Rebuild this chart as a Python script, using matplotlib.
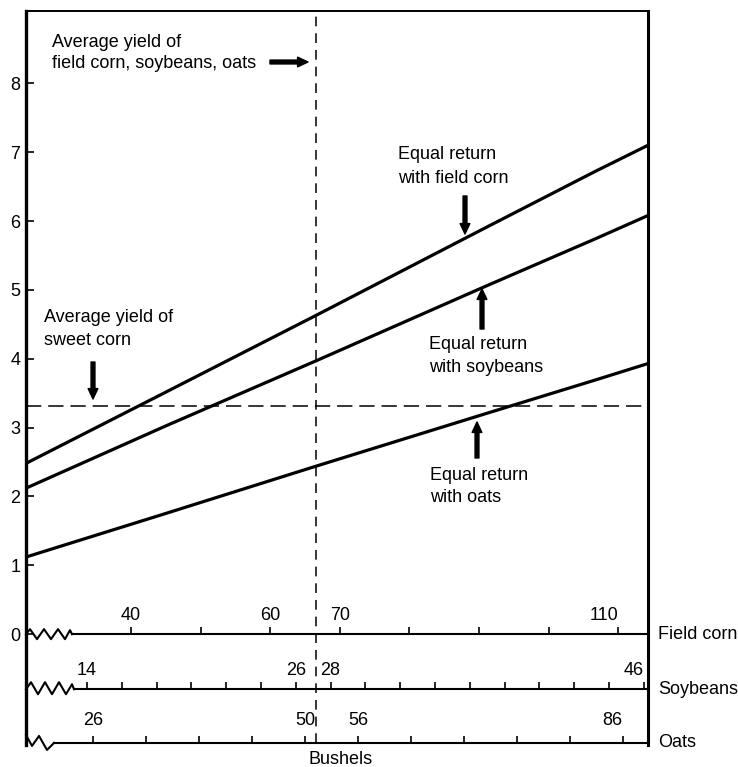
import matplotlib
matplotlib.use("Agg")
import matplotlib.pyplot as plt
from matplotlib.transforms import Affine2D, ScaledTranslation
from matplotlib.ticker import FixedLocator, FixedFormatter

plt.rcParams['font.family'] = ['Liberation Sans', 'DejaVu Sans']
plt.rcParams['font.size'] = 13
plt.rcParams['lines.scale_dashes'] = False

# ---------------- data ----------------
# x positions on the field-corn bushel scale where the curves were read
x_corn = [24.9, 44.9, 66.6, 90.9, 106.7, 114.3]
# tons of sweet corn needed for equal return
y_field_corn = [2.48, 3.51, 4.63, 5.90, 6.72, 7.10]
y_soybeans = [2.12, 3.02, 3.97, 5.05, 5.74, 6.08]
y_oats = [1.12, 1.75, 2.44, 3.20, 3.69, 3.93]

sweet_corn_avg = 3.32      # average yield of sweet corn
avg_corn_bu = 66.6         # average yield of field corn (soybeans 27, oats 51)

y_ticks = [0, 1, 2, 3, 4, 5, 6, 7, 8]

corn_ticks = [40, 50, 60, 70, 80, 90, 100, 110]
corn_labeled = [40, 60, 70, 110]
soy_ticks = [14, 16, 18, 20, 22, 24, 26, 28, 30, 32, 34, 36, 38, 40, 42, 44, 46]
soy_labeled = [14, 26, 28, 46]
oats_ticks = [26, 32, 38, 44, 50, 56, 62, 68, 74, 80, 86]
oats_labeled = [26, 50, 56, 86]

scale_names = ["Field corn", "Soybeans", "Oats"]

# bushel values at the left / right frame edges of each scale
corn_range = (24.9, 114.3)
soy_range = (10.5, 46.24)
oats_range = (18.4, 88.85)
# where each scale line starts after its break symbol
corn_start = 31.5
soy_start = 13.25
oats_start = 21.6

# ---------------- figure ----------------
W, H = 738, 767
fig = plt.figure(figsize=(W / 100, H / 100), dpi=100)
ax = fig.add_axes([26 / W, (H - 745) / H, 622 / W, 734 / H])
ax.set_xlim(*corn_range)
ax.set_ylim(-1.61, 9.05)
ax.patch.set_visible(False)

ax.spines['bottom'].set_visible(False)
ax.spines['left'].set_linewidth(2.4)
ax.spines['right'].set_linewidth(2.2)
ax.spines['top'].set_linewidth(1.4)
ax.set_xticks([])
ax.set_yticks(y_ticks)
ax.tick_params(axis='y', direction='in', length=6, width=1.2, pad=4,
               labelsize=13)

for yv in (y_field_corn, y_soybeans, y_oats):
    ax.plot(x_corn, yv, color='black', lw=2.3, solid_capstyle='butt')

ax.axhline(sweet_corn_avg, color='black', lw=1.1, ls=(0, (11, 5)))
ax.vlines(avg_corn_bu, -1.58, 9.05, color='black', lw=1.1,
          linestyles=[(0, (7, 5))])

# ---------------- bushel scales ----------------
scales = [
    (0.0, corn_range, corn_ticks, corn_labeled, corn_start, 7.3,
     [(0, 0), (4, 5), (11, -5), (18, 5), (25, -5), (32, 5), (39, -5), (44, 4), (46, 0)]),
    (-0.80, soy_range, soy_ticks, soy_labeled, soy_start, 7.3,
     [(0, 0), (5, 7), (12, -5), (19, 7), (26, -5), (33, 7), (40, -5), (46, 5), (48, 0)]),
    (-1.58, oats_range, oats_ticks, oats_labeled, oats_start, 10.0,
     [(0, 8), (6, -3), (13, 7), (21, -7), (28, 0)]),
]

for (base, rng, ticks, labeled, start, pad, zig), name in zip(scales, scale_names):
    sub = ax.inset_axes([corn_range[0], base, corn_range[1] - corn_range[0], 0.005],
                        transform=ax.transData)
    sub.set_xlim(*rng)
    sub.set_ylim(0, 1)
    sub.patch.set_visible(False)
    for s in ('top', 'left', 'right'):
        sub.spines[s].set_visible(False)
    sub.spines['bottom'].set_bounds(start, rng[1])
    sub.spines['bottom'].set_linewidth(1.5)
    sub.set_yticks([])
    sub.xaxis.set_major_locator(FixedLocator(ticks))
    sub.xaxis.set_major_formatter(FixedFormatter(
        [str(t) if t in labeled else '' for t in ticks]))
    sub.tick_params(axis='x', direction='in', length=5, width=1.2,
                    bottom=True, top=False, labelbottom=False, labeltop=True,
                    pad=pad, labelsize=13)
    # the last label on each scale sits just inside the right frame
    last = sub.xaxis.get_major_ticks()[-1]
    last.label2.set_horizontalalignment('right')
    trans = Affine2D().scale(fig.dpi / 100) + ScaledTranslation(0, 0, sub.transAxes)
    zx = [p[0] for p in zig]
    zy = [p[1] for p in zig]
    sub.plot(zx, zy, transform=trans, color='black', lw=1.5, clip_on=False)
    sub.annotate(name, xy=(1, 0), xycoords='axes fraction',
                 xytext=(7.5, 0), textcoords='offset points',
                 ha='left', va='center', fontsize=13, annotation_clip=False)

# ---------------- annotations ----------------
def ftext(x, y, s, **kw):
    fig.text(x / W, 1 - y / H, s, ha='left', va='baseline', fontsize=13, **kw)


def farrow(x0, y0, x1, y1):
    ax.annotate('', xy=(x1, H - y1), xycoords='figure pixels',
                xytext=(x0, H - y0), textcoords='figure pixels',
                arrowprops=dict(arrowstyle='simple,head_length=0.75,head_width=0.7,tail_width=0.28',
                                mutation_scale=10, color='black',
                                shrinkA=0, shrinkB=0),
                annotation_clip=False)


ftext(52, 47, "Average yield of")
ftext(52, 68, "field corn, soybeans, oats")
farrow(270, 62, 308, 62)

ftext(44, 322, "Average yield of")
ftext(44, 345, "sweet corn")
farrow(93, 362, 93, 399)

ftext(398, 159, "Equal return")
ftext(398, 183, "with field corn")
farrow(465, 196, 465, 234)

ftext(429, 349, "Equal return")
ftext(429, 372, "with soybeans")
farrow(482, 329, 482, 289)

ftext(430, 480, "Equal return")
ftext(430, 502, "with oats")
farrow(477, 458, 477, 422)

ftext(308, 764, "Bushels")

fig.savefig("out.png", dpi=100)
